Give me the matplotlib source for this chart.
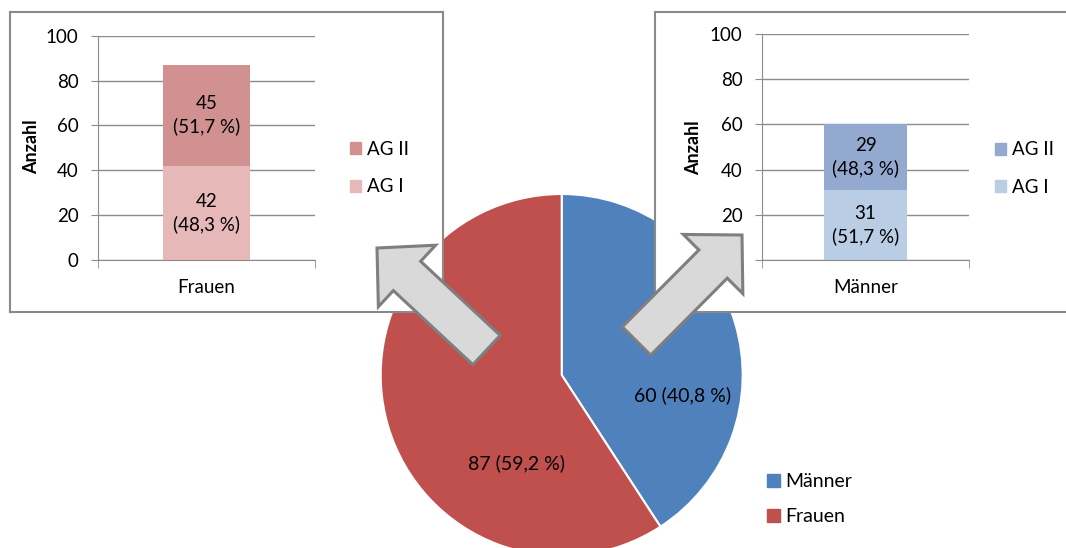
import matplotlib.pyplot as plt
from matplotlib.patches import FancyArrow, Patch

plt.rcParams['font.family'] = ['Lato', 'DejaVu Sans']

W, H = 1066, 548

BLUE = "#4F81BD"
RED = "#C0504D"
FRAME = "#8A8A8A"
GRID = "#8C8C8C"
ARROW_FILL = "#D9D9D9"
ARROW_EDGE = "#7F7F7F"

# data
pie_labels = ["Männer", "Frauen"]
pie_values = [60, 87]
groups = ["AG I", "AG II"]
frauen_values = [42, 45]
maenner_values = [31, 29]
frauen_colors = ["#E6B9B8", "#D29191"]
maenner_colors = ["#B9CDE5", "#93A9CF"]
y_ticks = [0, 20, 40, 60, 80, 100]

FS = 13.5


def px_box(x0, y0, x1, y1):
    # pixel box (top-left origin) -> figure fraction
    return [x0 / W, 1 - y1 / H, (x1 - x0) / W, (y1 - y0) / H]


def pct(v, total):
    return f"{v / total * 100:.1f}".replace(".", ",")


fig = plt.figure(figsize=(W / 100, H / 100), dpi=100)

# Pie in the background
pie_ax = fig.add_axes(px_box(380.7, 194, 742.7, 556), zorder=0)
pie_ax.pie(pie_values, colors=[BLUE, RED], startangle=90, counterclock=False,
           radius=1, wedgeprops=dict(edgecolor="white", linewidth=1.5))
pie_ax.set_xlim(-1, 1)
pie_ax.set_ylim(-1, 1)
total = sum(pie_values)
label_pos = [(0.668, -0.11), (-0.249, -0.49)]
for v, (lx, ly) in zip(pie_values, label_pos):
    pie_ax.text(lx, ly, f"{v} ({pct(v, total)} %)", ha="center", va="center", fontsize=14)

fig.legend(handles=[Patch(color=c, label=l) for c, l in zip([BLUE, RED], pie_labels)],
           loc="center left", bbox_to_anchor=(767 / W, 1 - 499 / H), frameon=False,
           handlelength=0.65, handleheight=0.65, handletextpad=0.3, labelspacing=0.92,
           borderpad=0, borderaxespad=0, fontsize=14)


def draw_inset(frame_px, plot_px, legend_px, label_px, values, colors, category):
    frame = fig.add_axes(px_box(*frame_px), zorder=1)
    frame.set_xticks([])
    frame.set_yticks([])
    frame.set_facecolor("white")
    for s in frame.spines.values():
        s.set_color(FRAME)
        s.set_linewidth(1.5)

    ax = fig.add_axes(px_box(*plot_px), zorder=2)
    ax.patch.set_alpha(0)
    bottom = 0
    tot = sum(values)
    handles = []
    for g, v, c in zip(groups, values, colors):
        bars = ax.bar([0], [v], width=0.4, bottom=bottom, color=c)
        ax.bar_label(bars, labels=[f"{v}\n({pct(v, tot)} %)"], label_type="center",
                     fontsize=FS, linespacing=1.32)
        bottom += v
        handles.append(Patch(color=c, label=g))

    ax.set_xlim(-0.5, 0.5)
    ax.set_ylim(0, 100)
    ax.set_yticks(y_ticks)
    ax.set_xticks([0])
    ax.set_xticklabels([category])
    ax.set_xticks([-0.5, 0.5], minor=True)
    ax.grid(axis="y", color=GRID, linewidth=1)
    ax.set_axisbelow(True)
    for s in ["top", "right"]:
        ax.spines[s].set_visible(False)
    for s in ["left", "bottom"]:
        ax.spines[s].set_color(GRID)
    ax.tick_params(axis="y", length=5, color=GRID, pad=9, labelsize=FS)
    ax.tick_params(axis="x", which="major", length=0, pad=14, labelsize=FS)
    ax.tick_params(axis="x", which="minor", length=6, color=GRID)

    fig.text(label_px[0] / W, 1 - label_px[1] / H, "Anzahl", rotation=90,
             ha="center", va="center", fontsize=FS - 0.5, fontweight="bold")

    ax.legend(handles=handles[::-1], loc="center left",
              bbox_to_anchor=(legend_px[0] / W, 1 - legend_px[1] / H),
              bbox_transform=fig.transFigure, frameon=False,
              handlelength=0.6, handleheight=0.6, handletextpad=0.3,
              labelspacing=1.1, borderpad=0, borderaxespad=0, fontsize=FS)


draw_inset((10, 12, 443, 312), (98, 35.7, 315, 260), (350, 168), (32, 147),
           frauen_values, frauen_colors, "Frauen")
draw_inset((655, 12, 1080, 312), (762, 34, 969, 260), (995, 168.5), (694, 148),
           maenner_values, maenner_colors, "Männer")

# Block arrows on top
ov = fig.add_axes([0, 0, 1, 1], zorder=3)
ov.set_xlim(0, W)
ov.set_ylim(H, 0)
ov.axis("off")
arrows = [((486.5, 350), (377, 248)), ((636.5, 341), (742, 235))]
for (x0, y0), (x1, y1) in arrows:
    ov.add_patch(FancyArrow(x0, y0, x1 - x0, y1 - y0, width=40, head_width=84,
                            head_length=41, length_includes_head=True,
                            fc=ARROW_FILL, ec=ARROW_EDGE, lw=2.2, joinstyle="miter"))

fig.savefig("out.png", dpi=100)
